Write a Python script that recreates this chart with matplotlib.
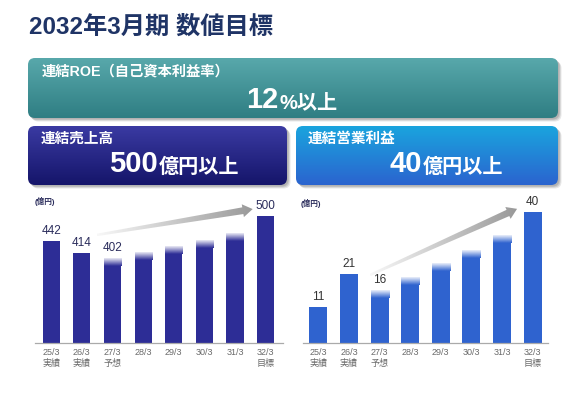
import numpy as np, matplotlib
matplotlib.use('Agg')
import matplotlib.pyplot as plt
from matplotlib.patches import FancyBboxPatch, Polygon
from matplotlib.colors import to_rgb

plt.rcParams['font.family'] = ['Liberation Sans', 'Noto Sans CJK JP', 'DejaVu Sans']

# ---- data ----
periods   = ['25/3', '26/3', '27/3', '28/3', '29/3', '30/3', '31/3', '32/3']
status    = ['実績', '実績', '予想', '', '', '', '', '目標']
sales     = [442, 414, 402, 416, 429, 444, 460, 500]      # 億円
op_profit = [11, 21, 16, 20, 24.3, 28.3, 33, 40]          # 億円
labeled   = [True, True, True, False, False, False, False, True]
faded     = [False, False, True, True, True, True, True, False]

title = '2032年3月期 数値目標'
roe_label, roe_num, roe_unit = '連結ROE（自己資本利益率）', '12', '%以上'
sal_label, sal_num, sal_unit = '連結売上高', '500', '億円以上'
op_label, op_num, op_unit = '連結営業利益', '40', '億円以上'
unit_txt = '(億円)'

C_TITLE = '#1f3466'
C_SALES = '#2d2d96'; C_OP = '#2f63cf'

W, H = 580, 401
fig = plt.figure(figsize=(W/100, H/100), dpi=100, facecolor='white')
bg = fig.add_axes([0, 0, 1, 1]); bg.axis('off')
bg.set_xlim(0, W); bg.set_ylim(H, 0); bg.set_autoscale_on(False)

def vgrad(top, bot, n=64):
    t = np.linspace(0, 1, n)[:, None, None]
    return (1-t)*np.array(to_rgb(top))[None, None, :] + t*np.array(to_rgb(bot))[None, None, :]

def box(x0, y0, w, h, top, bot):
    for k, a in [(3.5, 0.18), (2.5, 0.25), (1.5, 0.3)]:
        bg.add_patch(FancyBboxPatch((x0+k, y0+k), w, h, boxstyle='round,pad=0,rounding_size=7',
                                    fc='#7a7a7a', ec='none', alpha=a, zorder=1))
    p = FancyBboxPatch((x0, y0), w, h, boxstyle='round,pad=0,rounding_size=7', fc='none', ec='none', zorder=2)
    bg.add_patch(p)
    im = bg.imshow(vgrad(top, bot), extent=(x0, x0+w, y0+h, y0), aspect='auto', origin='upper',
                   interpolation='bilinear', zorder=2)
    im.set_clip_path(p)

def big(xs, yb, num, unit):
    bg.text(xs, yb, num, ha='right', va='baseline', fontsize=21, fontweight='bold', color='white', zorder=5)
    bg.text(xs+1, yb, unit, ha='left', va='baseline', fontsize=14.5, fontweight='bold', color='white', zorder=5)

bg.text(29, 27.5, title, ha='left', va='center', fontsize=17.5, fontweight='bold', color=C_TITLE)

box(28, 58, 530, 60, '#58a8ab', '#2f7e83')
box(28, 126, 259, 59, '#3a3aa2', '#15156a')
box(296, 126, 262, 59, '#1aa4de', '#2b64cf')

bg.text(42, 72, roe_label, ha='left', va='center', fontsize=10.3, fontweight='bold', color='white', zorder=5)
big(278, 108.5, roe_num, roe_unit)
bg.text(41, 139, sal_label, ha='left', va='center', fontsize=10.5, fontweight='bold', color='white', zorder=5)
big(158, 172.5, sal_num, sal_unit)
bg.text(308, 138.5, op_label, ha='left', va='center', fontsize=10.5, fontweight='bold', color='white', zorder=5)
big(422, 172.5, op_num, op_unit)

bg.text(35, 202, unit_txt, ha='left', va='center', fontsize=5.5, fontweight='bold', color='#2b2d5c')
bg.text(301, 203, unit_txt, ha='left', va='center', fontsize=5.5, fontweight='bold', color='#2b2d5c')

def bars(rect, vals, color, ylim, xlim, w, fade, lab_color):
    ax = fig.add_axes(rect)
    ax.patch.set_alpha(0)
    x = np.arange(len(vals))
    for i, v in enumerate(vals):
        if faded[i]:
            ax.bar(i, v - fade, w, color=color, zorder=2)
            a = np.linspace(0.1, 1, 32)[:, None]
            img = np.zeros((32, 1, 4)); img[..., :3] = to_rgb(color); img[..., 3] = a
            ax.imshow(img, extent=(i-w/2, i+w/2, v-fade, v), aspect='auto', origin='upper',
                      interpolation='bilinear', zorder=2)
        else:
            ax.bar(i, v, w, color=color, zorder=2)
        if labeled[i]:
            ax.annotate(f'{v:g}', (i, v), xytext=(0, 3), textcoords='offset points', ha='center',
                        va='bottom', fontsize=8.5, color=lab_color)
    ax.set_xlim(*xlim); ax.set_ylim(*ylim)
    ax.set_xticks(x)
    ax.set_xticklabels([f'{p}\n{s}' for p, s in zip(periods, status)])
    ax.tick_params(axis='x', length=0, pad=4, labelsize=6.5, labelcolor='#6a6a6a')
    ax.set_yticks([])
    for s in ['left', 'top', 'right']: ax.spines[s].set_visible(False)
    ax.spines['bottom'].set_color('#aaaaaa'); ax.spines['bottom'].set_linewidth(0.9)
    return ax

fb, fh = (H-342.7)/H, 142.7/H
axL = bars([35/W, fb, 248/W, fh], sales, C_SALES, (206, 537), (-0.53, 7.57), 0.56, 18, '#2b2d5c')
axR = bars([303/W, fb, 245/W, fh], op_profit, C_OP, (0, 43.6), (-0.5, 7.5), 0.59, 2.4, '#333333')

def arrow(ax, tail, head):
    tr = lambda p: bg.transData.inverted().transform(ax.transData.transform(p))
    t, h = tr(tail), tr(head)
    d = h - t; L = np.hypot(*d); u = d/L; n = np.array([-u[1], u[0]])
    hb = h - u*10
    pts = [t+n*1.2, hb+n*3.4, hb+n*6.5, h, hb-n*6.5, hb-n*3.4, t-n*1.2]
    poly = Polygon(pts, closed=True, fc='none', ec='none', zorder=3)
    bg.add_patch(poly)
    xs = [p[0] for p in pts]; ys = [p[1] for p in pts]
    g = np.linspace(0, 1, 64)[None, :, None]
    img = (1-g)*np.array([0.97]*3)[None, None, :] + g*np.array([0.6]*3)[None, None, :]
    im = bg.imshow(img, extent=(min(xs), max(xs), max(ys), min(ys)), aspect='auto', origin='upper',
                   interpolation='bilinear', zorder=3)
    im.set_clip_path(poly)

arrow(axL, (1.49, 456), (6.58, 516))
arrow(axR, (1.69, 20.7), (6.49, 40.9))

bg.set_xlim(0, W); bg.set_ylim(H, 0)
fig.savefig('out.png', dpi=100, facecolor='white')
